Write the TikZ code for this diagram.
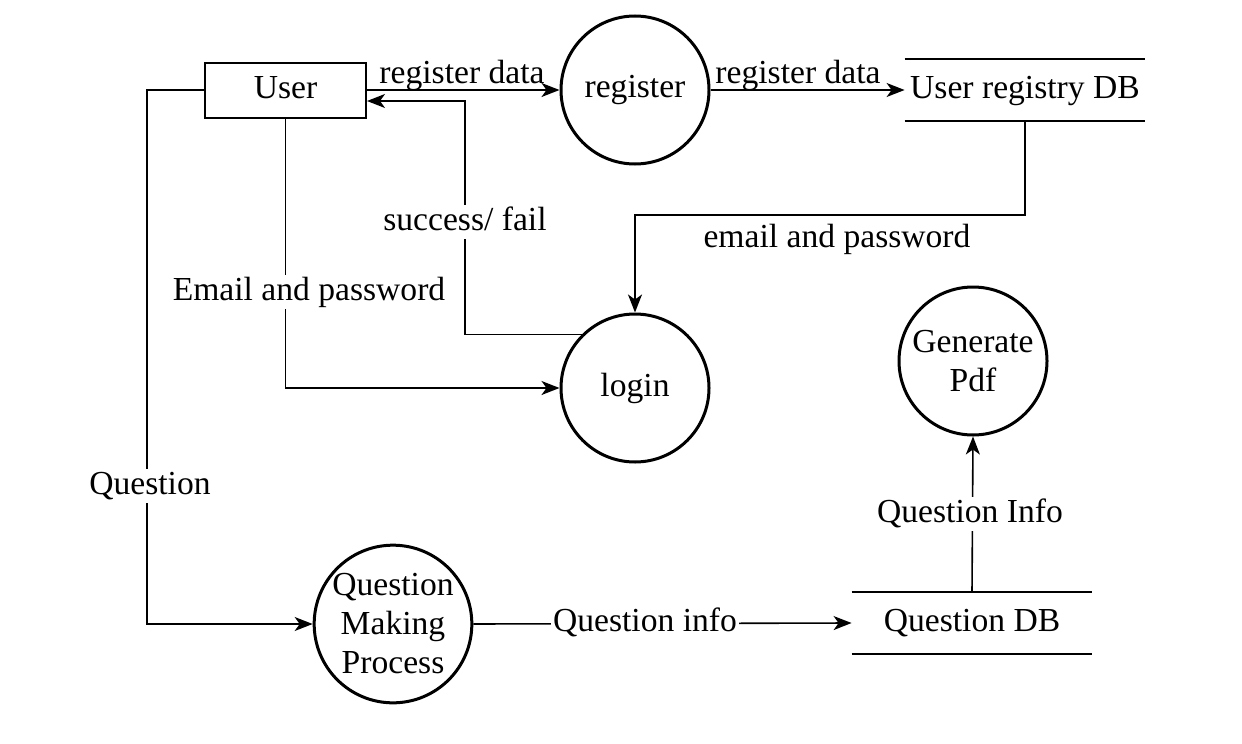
\documentclass[tikz,border=0pt]{standalone}
\usepackage{fontspec}
\setmainfont{Liberation Serif}
\usetikzlibrary{arrows.meta,calc}
\begin{document}
\begin{tikzpicture}[x=0.5pt,y=-0.5pt,
  font=\fontsize{16.8}{19.5}\selectfont,
  proc/.style={circle,draw,line width=1.5pt,minimum size=74pt,inner sep=0pt,align=center},
  ent/.style={rectangle,draw,line width=1pt,minimum width=80.5pt,minimum height=27.5pt,inner sep=0pt},
  store/.style={rectangle,minimum width=120pt,minimum height=30.5pt,inner sep=0pt},
  flow/.style={line width=0.8pt,-{Stealth[length=9pt,width=7pt,inset=2.5pt]}},
  one/.style={text height=11.5pt,text depth=3.5pt},
  lbl/.style={fill=white,inner sep=1pt,one}]
\useasboundingbox (0,0) rectangle (1242,744);
\node[ent,one] (user) at (285.5,90) {User};
\node[proc] (reg) at (635,90) {\rule{0pt}{11.5pt}register};
\node[store,one] (urdb) at (1025,90) {User registry DB};
\draw[line width=1pt] (urdb.north west) -- (urdb.north east) (urdb.south west) -- (urdb.south east);
\node[proc] (login) at (635,388) {\rule{0pt}{11.5pt}login};
\node[proc] (gen) at (973,361) {Generate\\Pdf};
\node[proc] (qmp) at (393,624) {Question\\Making\\Process};
\node[store,one] (qdb) at (972,623) {Question DB};
\draw[line width=1pt] (qdb.north west) -- (qdb.north east) (qdb.south west) -- (qdb.south east);

\coordinate (c1) at (465,101);
\coordinate (c2) at (147,624);
\coordinate (c3) at (800,215);

\draw[flow] (user.east) -- (reg.west);
\draw[flow] (reg.east) -- (urdb.west);
\draw[flow] (urdb.south) |- (c3) -| (login.north);
\draw[flow] (login.135) -| (c1) -- (user.east |- c1);
\draw[flow] (user.south) |- (login.west);
\draw[flow] (user.west) -| (c2) -- (qmp.west);
\draw[flow] (qmp.east) -- (qdb.west);
\draw[flow] (qdb.north) -- (gen.south);

\node[inner sep=1pt,one] (l1) at (462,75) {register data};
\node[inner sep=1pt,one] (l2) at (798,75) {register data};
\node[inner sep=1pt,one] (l3) at (837,239) {email and password};
\node[lbl] (l4) at (465,222) {success/ fail};
\node[lbl] (l5) at (309,292) {Email and password};
\node[lbl] (l6) at (150,486) {Question};
\node[lbl] (l7) at (645,623) {Question info};
\node[lbl] (l8) at (970,514) {Question Info};
\end{tikzpicture}
\end{document}
